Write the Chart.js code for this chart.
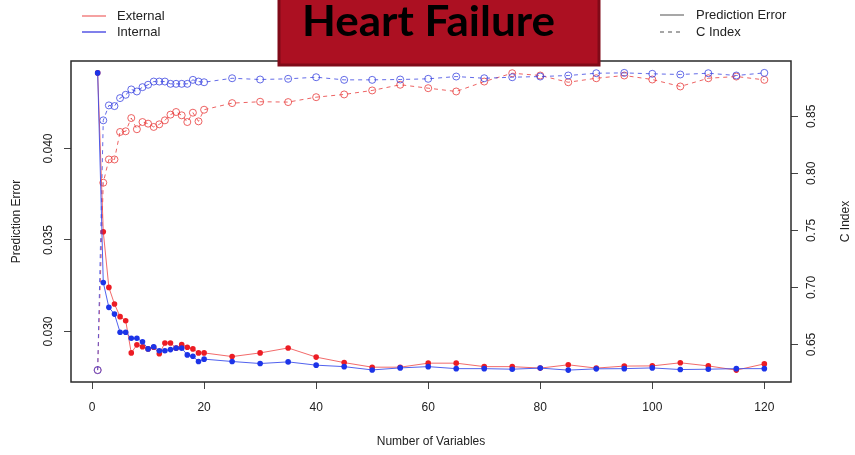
<!DOCTYPE html>
<html>
<head>
<meta charset="utf-8">
<script src="https://cdn.jsdelivr.net/npm/chart.js@4.4.1/dist/chart.umd.min.js"></script>
<style>
html,body{margin:0;padding:0;background:#fff;}
#wrap{width:855px;height:455px;position:relative;}
canvas{display:block;}
</style>
</head>
<body>
<div id="wrap"><canvas id="c" width="855" height="455"></canvas></div>
<script>
// ---- data ----
const numVars = [1,2,3,4,5,6,7,8,9,10,11,12,13,14,15,16,17,18,19,20,25,30,35,40,45,50,55,60,65,70,75,80,85,90,95,100,105,110,115,120];

const extPredErr = [0.04413,0.03545,0.03241,0.03150,0.03081,0.03059,0.02883,0.02927,0.02917,0.02905,
  0.02914,0.02878,0.02937,0.02937,0.02909,0.02928,0.02914,0.02905,0.02883,0.02883,
  0.02863,0.02883,0.02910,0.02860,0.02830,0.02805,0.02805,0.02827,0.02827,0.02808,
  0.02808,0.02800,0.02818,0.02800,0.02811,0.02812,0.02829,0.02812,0.02789,0.02823];

const intPredErr = [0.04413,0.03268,0.03132,0.03095,0.02996,0.02996,0.02963,0.02963,0.02944,0.02905,
  0.02917,0.02895,0.02895,0.02901,0.02909,0.02909,0.02872,0.02865,0.02836,0.02849,
  0.02836,0.02825,0.02834,0.02816,0.02808,0.02790,0.02801,0.02808,0.02797,0.02797,
  0.02794,0.02800,0.02789,0.02796,0.02797,0.02801,0.02792,0.02794,0.02797,0.02797];

const extCIndex = [0.6275,0.7918,0.8122,0.8122,0.8363,0.8369,0.8485,0.8387,0.8450,0.8436,
  0.8407,0.8430,0.8465,0.8515,0.8538,0.8509,0.8450,0.8532,0.8456,0.8558,
  0.8616,0.8628,0.8625,0.8668,0.8692,0.8727,0.8777,0.8747,0.8718,0.8805,
  0.8878,0.8858,0.8799,0.8834,0.8858,0.8823,0.8762,0.8834,0.8849,0.8820];

const intCIndex = [0.6275,0.8465,0.8596,0.8590,0.8660,0.8689,0.8736,0.8718,0.8756,0.8777,
  0.8805,0.8805,0.8805,0.8785,0.8785,0.8785,0.8785,0.8820,0.8805,0.8799,
  0.8834,0.8823,0.8829,0.8843,0.8820,0.8820,0.8823,0.8829,0.8849,0.8834,
  0.8843,0.8849,0.8858,0.8878,0.8881,0.8873,0.8867,0.8878,0.8858,0.8881];

const xTicks = [0,20,40,60,80,100,120];
const predErrTicks = [0.030,0.035,0.040];
const cIndexTicks = [0.65,0.70,0.75,0.80,0.85];

const titleText = "Heart Failure";
const seriesNames = ["External","Internal"];
const metricNames = ["Prediction Error","C Index"];
const xTitle = "Number of Variables";

// ---- helpers ----
function rRange(arrs){ // R-style 4% axis extension
  let mn = Infinity, mx = -Infinity;
  arrs.forEach(a => a.forEach(v => { if (v < mn) mn = v; if (v > mx) mx = v; }));
  const d = (mx - mn) * 0.04;
  return [mn - d, mx + d];
}
const xr = rRange([numVars]);
const yr = rRange([extPredErr, intPredErr]);
const y1r = rRange([extCIndex, intCIndex]);
const pts = (ys) => numVars.map((x,i) => ({x:x, y:ys[i]}));

const RED_PT = 'rgb(236,28,36)';
const RED_LN = 'rgba(240,80,80,0.85)';
const BLUE_PT = 'rgb(28,52,232)';
const BLUE_LN = 'rgba(50,70,235,0.85)';
const RED_CI = 'rgba(232,60,60,0.8)';
const BLUE_CI = 'rgba(60,70,225,0.8)';
const FONT = '"Liberation Sans", Arial, sans-serif';
const TXT = '#222';

const decor = {
  id: 'decor',
  afterDraw(chart){
    const ctx = chart.ctx, a = chart.chartArea;
    const sy = chart.scales.y, sy1 = chart.scales.y1;
    ctx.save();
    // plot box
    ctx.strokeStyle = '#2a2a2a'; ctx.lineWidth = 1.5;
    ctx.strokeRect(a.left, a.top, a.right - a.left, a.bottom - a.top);
    // rotated y tick labels
    ctx.fillStyle = TXT; ctx.font = '12px ' + FONT;
    ctx.textAlign = 'center'; ctx.textBaseline = 'middle';
    predErrTicks.forEach(v => {
      const p = sy.getPixelForValue(v);
      ctx.save(); ctx.translate(a.left - 22, p); ctx.rotate(-Math.PI/2);
      ctx.fillText(v.toFixed(3), 0, 0); ctx.restore();
    });
    cIndexTicks.forEach(v => {
      const p = sy1.getPixelForValue(v);
      ctx.save(); ctx.translate(a.right + 21, p); ctx.rotate(-Math.PI/2);
      ctx.fillText(v.toFixed(2), 0, 0); ctx.restore();
    });
    // axis titles
    const midY = (a.top + a.bottom) / 2;
    ctx.save(); ctx.translate(17, midY); ctx.rotate(-Math.PI/2);
    ctx.fillText(metricNames[0], 0, 0); ctx.restore();
    ctx.save(); ctx.translate(846, midY); ctx.rotate(-Math.PI/2);
    ctx.fillText(metricNames[1], 0, 0); ctx.restore();
    ctx.fillText(xTitle, (a.left + a.right) / 2, 442);

    // left legend
    ctx.font = '13px ' + FONT; ctx.textAlign = 'left';
    ctx.lineWidth = 1.3;
    ctx.strokeStyle = 'rgba(240,110,110,1)';
    ctx.beginPath(); ctx.moveTo(82, 16); ctx.lineTo(106, 16); ctx.stroke();
    ctx.strokeStyle = 'rgba(60,60,225,1)';
    ctx.beginPath(); ctx.moveTo(82, 32); ctx.lineTo(106, 32); ctx.stroke();
    ctx.fillText(seriesNames[0], 117, 16);
    ctx.fillText(seriesNames[1], 117, 32);
    // right legend
    ctx.strokeStyle = '#777';
    ctx.beginPath(); ctx.moveTo(660, 15); ctx.lineTo(684, 15); ctx.stroke();
    ctx.setLineDash([4,4]);
    ctx.beginPath(); ctx.moveTo(660, 32); ctx.lineTo(684, 32); ctx.stroke();
    ctx.setLineDash([]);
    ctx.fillText(metricNames[0], 696, 15);
    ctx.fillText(metricNames[1], 696, 32);

    // title box
    ctx.fillStyle = 'rgb(172,16,34)';
    ctx.strokeStyle = 'rgb(128,10,24)';
    ctx.lineWidth = 3;
    ctx.beginPath();
    ctx.rect(279, -3, 320, 68);
    ctx.fill(); ctx.stroke();
    ctx.fillStyle = '#000';
    ctx.font = 'bold 42px Lato, "Open Sans", sans-serif';
    ctx.textAlign = 'left'; ctx.textBaseline = 'alphabetic';
    const w = ctx.measureText(titleText).width;
    const target = 253;
    ctx.save(); ctx.translate(302, 36); ctx.scale(target / w, 1);
    ctx.fillText(titleText, 0, 0); ctx.restore();
    ctx.restore();
  }
};

new Chart(document.getElementById('c'), {
  type: 'line',
  data: {
    datasets: [
      { label: 'Internal Prediction Error', data: pts(intPredErr), yAxisID: 'y',
        borderColor: BLUE_LN, borderWidth: 1, pointRadius: 2.8, pointBackgroundColor: BLUE_PT,
        pointBorderColor: BLUE_PT, pointBorderWidth: 0, tension: 0, fill: false },
      { label: 'External Prediction Error', data: pts(extPredErr), yAxisID: 'y',
        borderColor: RED_LN, borderWidth: 1, pointRadius: 2.8, pointBackgroundColor: RED_PT,
        pointBorderColor: RED_PT, pointBorderWidth: 0, tension: 0, fill: false },
      { label: 'Internal C Index', data: pts(intCIndex), yAxisID: 'y1',
        borderColor: BLUE_CI, borderWidth: 1, borderDash: [4,4], pointRadius: 3.5,
        pointBackgroundColor: 'rgba(0,0,0,0)', pointBorderColor: BLUE_CI, pointBorderWidth: 1,
        tension: 0, fill: false },
      { label: 'External C Index', data: pts(extCIndex), yAxisID: 'y1',
        borderColor: RED_CI, borderWidth: 1, borderDash: [4,4], pointRadius: 3.5,
        pointBackgroundColor: 'rgba(0,0,0,0)', pointBorderColor: RED_CI, pointBorderWidth: 1,
        tension: 0, fill: false }
    ]
  },
  options: {
    responsive: false,
    animation: false,
    devicePixelRatio: 1,
    layout: { padding: { top: 61, left: 0, right: 0, bottom: 0 } },
    plugins: { legend: { display: false }, title: { display: false }, tooltip: { enabled: false } },
    scales: {
      x: {
        type: 'linear', position: 'bottom', min: xr[0], max: xr[1],
        afterBuildTicks: s => { s.ticks = xTicks.map(v => ({value: v})); },
        afterFit: s => { s.height = 73; },
        grid: { display: true, drawOnChartArea: false, drawTicks: true, tickLength: 7, tickColor: '#444', lineWidth: 1 },
        border: { display: false },
        ticks: { color: TXT, font: { family: FONT, size: 12 }, padding: 11, maxRotation: 0, autoSkip: false,
                 callback: v => String(v) }
      },
      y: {
        type: 'linear', position: 'left', min: yr[0], max: yr[1],
        afterBuildTicks: s => { s.ticks = predErrTicks.map(v => ({value: v})); },
        afterFit: s => { s.width = 71; },
        grid: { display: true, drawOnChartArea: false, drawTicks: true, tickLength: 7, tickColor: '#444' },
        border: { display: false },
        ticks: { display: false }
      },
      y1: {
        type: 'linear', position: 'right', min: y1r[0], max: y1r[1],
        afterBuildTicks: s => { s.ticks = cIndexTicks.map(v => ({value: v})); },
        afterFit: s => { s.width = 64; },
        grid: { display: true, drawOnChartArea: false, drawTicks: true, tickLength: 7, tickColor: '#444' },
        border: { display: false },
        ticks: { display: false }
      }
    }
  },
  plugins: [decor]
});
</script>
</body>
</html>
